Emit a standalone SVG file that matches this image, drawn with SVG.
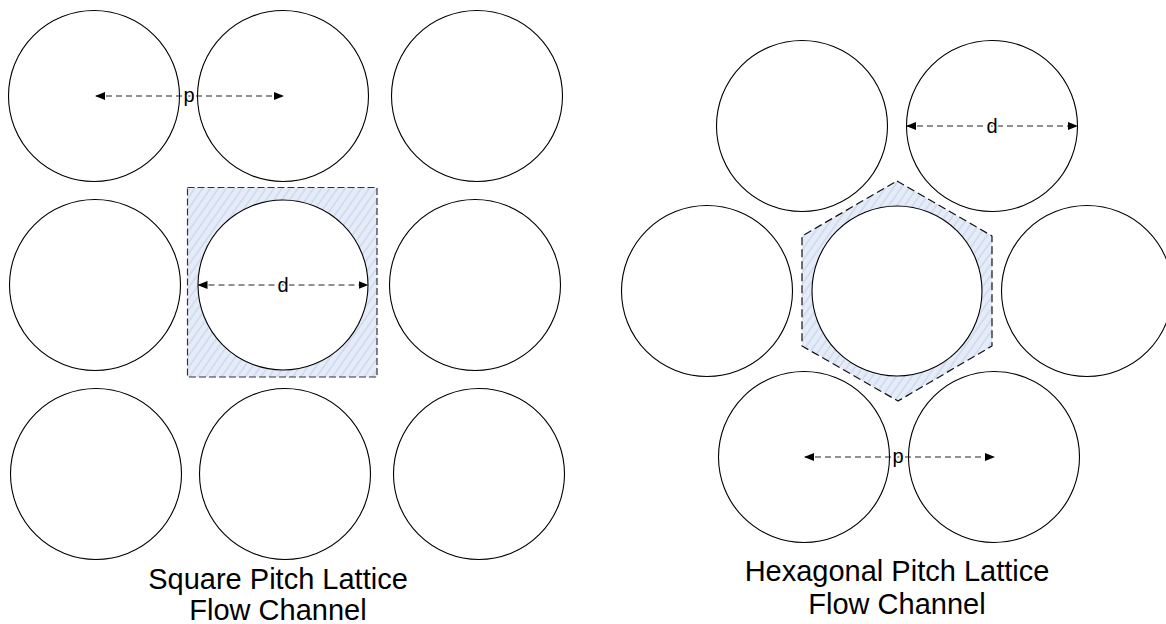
<svg xmlns="http://www.w3.org/2000/svg" width="1166" height="624" viewBox="0 0 1166 624">
<style>
.rod{fill:#fff;stroke:#000;stroke-width:1.1}
.cell{fill:url(#hatch);stroke:#333;stroke-width:1.2;stroke-dasharray:7 3}
.dim{fill:none;stroke:#222;stroke-width:1;stroke-dasharray:6 4;marker-start:url(#ah);marker-end:url(#ah)}
.lbl{font-family:"Liberation Sans",Arial,sans-serif;font-size:20px;fill:#000;text-anchor:middle;paint-order:stroke;stroke:#fff;stroke-width:3}
.title{font-family:"Liberation Sans",Arial,sans-serif;font-size:29px;fill:#000;text-anchor:middle}
</style>
<defs>
<pattern id="hatch" patternUnits="userSpaceOnUse" width="6.5" height="6.5" patternTransform="rotate(35)">
<rect width="6.5" height="6.5" fill="#e6ecf7"/>
<line x1="1" y1="0" x2="1" y2="6.5" stroke="#bfcfec" stroke-width="1"/>
</pattern>
<marker id="ah" viewBox="0 0 10 10" refX="9" refY="5" markerWidth="10" markerHeight="10" markerUnits="userSpaceOnUse" orient="auto-start-reverse">
<path d="M0,1 L10,5 L0,9 Z" fill="#000"/>
</marker>
</defs>
<rect width="1166" height="624" fill="#fff"/>

<g id="square-lattice">
<g id="sq-cell"><rect class="cell" x="187.5" y="187.5" width="189.5" height="189.5"/></g>
<g id="sq-r1c1"><circle class="rod" cx="94" cy="96" r="85.5"/></g>
<g id="sq-r1c2"><circle class="rod" cx="283" cy="96" r="85.5"/></g>
<g id="sq-r1c3"><circle class="rod" cx="477" cy="96" r="85.5"/></g>
<g id="sq-r2c1"><circle class="rod" cx="95" cy="285" r="85.5"/></g>
<g id="sq-r2c2"><circle class="rod" cx="283" cy="285" r="85"/></g>
<g id="sq-r2c3"><circle class="rod" cx="475" cy="285" r="85.5"/></g>
<g id="sq-r3c1"><circle class="rod" cx="96" cy="474" r="85.5"/></g>
<g id="sq-r3c2"><circle class="rod" cx="285" cy="474" r="85.5"/></g>
<g id="sq-r3c3"><circle class="rod" cx="479" cy="474" r="85.5"/></g>
<g id="sq-title">
<text class="title" x="278" y="589">Square Pitch Lattice</text>
<text class="title" x="278" y="620">Flow Channel</text>
</g>
</g>

<g id="hex-lattice">
<g id="hex-cell"><polygon class="cell" style="stroke:#111;stroke-dasharray:8 4" points="897,181 992,236 992,346 898,401 802,346 802,236"/></g>
<g id="hex-tl"><circle class="rod" cx="802" cy="126" r="85.5"/></g>
<g id="hex-tr"><circle class="rod" cx="992" cy="126" r="85.5"/></g>
<g id="hex-l"><circle class="rod" cx="707" cy="291" r="85.5"/></g>
<g id="hex-c"><circle class="rod" cx="897" cy="291" r="85"/></g>
<g id="hex-r"><circle class="rod" cx="1087" cy="291" r="85.5"/></g>
<g id="hex-bl"><circle class="rod" cx="804" cy="457" r="85.5"/></g>
<g id="hex-br"><circle class="rod" cx="994" cy="457" r="85.5"/></g>
<g id="hex-title">
<text class="title" x="897" y="581">Hexagonal Pitch Lattice</text>
<text class="title" x="897" y="614">Flow Channel</text>
</g>
</g>

<g id="connectors">
<line class="dim" x1="96" y1="96" x2="283" y2="96"/>
<line class="dim" x1="198.5" y1="285" x2="367.5" y2="285"/>
<line class="dim" x1="907" y1="126" x2="1077" y2="126"/>
<line class="dim" x1="805" y1="457" x2="994" y2="457"/>
<text class="lbl" x="189" y="102">p</text>
<text class="lbl" x="283" y="292">d</text>
<text class="lbl" x="992" y="133">d</text>
<text class="lbl" x="898" y="463">p</text>
</g>
</svg>
